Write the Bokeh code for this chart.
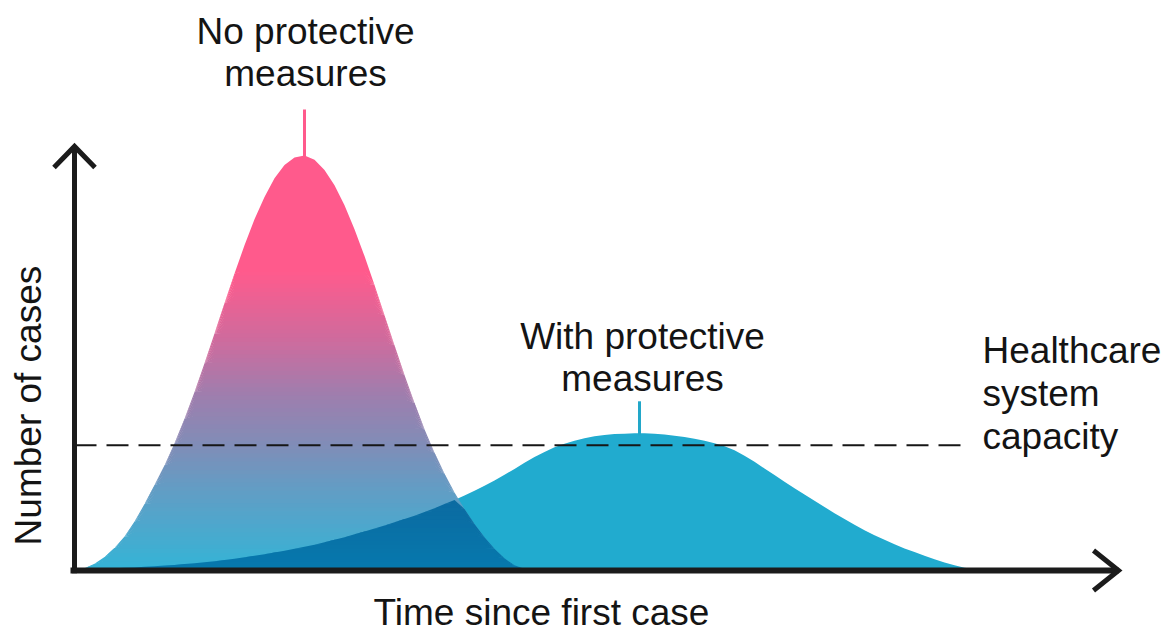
import numpy as np
from bokeh.plotting import figure
from bokeh.models import Range1d
from bokeh.embed import file_html
from bokeh.resources import INLINE
from bokeh.core.properties import value

# ---------------- data ----------------
time_steps = list(range(0, 93))

cases_no_measures = [
    0, 0.3, 1.4, 3.0, 5.2, 8.0, 11.6, 15.8, 20.4, 25.1,
    30.5, 36.4, 42.9, 49.8, 57.0, 64.3, 71.5, 78.3, 84.6, 90.0,
    94.5, 97.7, 99.5, 100, 99.0, 96.5, 92.8, 88.0, 82.2, 75.7,
    68.7, 61.4, 54.1, 47.0, 40.2, 33.9, 28.2, 23.1, 18.6, 14.6,
    11.0, 7.8, 5.0, 2.7, 1.0, 0.2, 0, 0, 0, 0,
    0, 0, 0, 0, 0, 0, 0, 0, 0, 0,
    0, 0, 0, 0, 0, 0, 0, 0, 0, 0,
    0, 0, 0, 0, 0, 0, 0, 0, 0, 0,
    0, 0, 0, 0, 0, 0, 0, 0, 0, 0,
    0, 0, 0,
]

cases_with_measures = [
    0, 0.05, 0.1, 0.2, 0.3, 0.4, 0.5, 0.65, 0.8, 0.95,
    1.1, 1.3, 1.5, 1.75, 2.0, 2.3, 2.6, 2.95, 3.3, 3.7,
    4.1, 4.5, 5.0, 5.5, 6.0, 6.6, 7.2, 7.8, 8.5, 9.2,
    9.9, 10.6, 11.4, 12.2, 13.0, 13.9, 14.8, 15.8, 16.8, 17.9,
    19.0, 20.2, 21.5, 22.9, 24.3, 25.8, 27.2, 28.4, 29.5, 30.4,
    31.1, 31.7, 32.2, 32.5, 32.7, 32.8, 32.9, 32.9, 32.8, 32.6,
    32.3, 32.0, 31.6, 31.1, 30.5, 29.8, 28.8, 27.5, 26.0, 24.4,
    22.8, 21.2, 19.6, 18.1, 16.6, 15.1, 13.6, 12.2, 10.8, 9.5,
    8.3, 7.2, 6.1, 5.1, 4.2, 3.3, 2.5, 1.7, 1.0, 0.4,
    0.1, 0, 0,
]

capacity_level = 30
capacity_end = 89

label_no = ["No protective", "measures"]
label_with = ["With protective", "measures"]
label_capacity = ["Healthcare", "system", "capacity"]
x_title = "Time since first case"
y_title = "Number of cases"

# ---------------- figure ----------------
W, H = 1164, 633
X0, X1 = -7.4, 109.0
Y0, Y1 = -15.46, 137.44
dxp = (X1 - X0) / W     # data units per pixel (x)
dyp = (Y1 - Y0) / H     # data units per pixel (y)

p = figure(width=W, height=H, output_backend="svg", toolbar_location=None,
           x_range=Range1d(X0, X1), y_range=Range1d(Y0, Y1),
           x_axis_location=None, y_axis_location=None, min_border=0,
           background_fill_color="white", border_fill_color="white")
p.grid.visible = False
p.outline_line_color = None

t = np.array(time_steps, dtype=float)
left = np.array(cases_no_measures, dtype=float)
right = np.array(cases_with_measures, dtype=float)

TEAL = (33, 171, 207)
PINK = (255, 90, 140)
stops_c = [0, 20, 30, 42, 55, 72]
stops_rgb = [(52, 180, 214), (100, 156, 196), (128, 141, 183),
             (158, 126, 174), (205, 108, 158), PINK]


def grad(c):
    return tuple(int(round(np.interp(c, stops_c, [s[i] for s in stops_rgb])))
                 for i in range(3))


def hexc(rgb):
    return "#%02x%02x%02x" % rgb


# right curve (with measures)
p.varea(x=t, y1=np.zeros_like(right), y2=right, fill_color=hexc(TEAL))

# left curve with vertical gradient
top_grad = 72
for k in range(top_grad):
    lo, hi = float(k), k + 1.2
    p.varea(x=t, y1=np.minimum(left, lo), y2=np.minimum(left, hi),
            fill_color=hexc(grad(k + 0.5)))
p.varea(x=t, y1=np.minimum(left, top_grad), y2=left, fill_color=hexc(PINK))

# overlap (multiply blend)
ov = np.minimum(left, right)
for k in range(int(np.ceil(ov.max())) + 1):
    lo, hi = float(k), k + 1.2
    g = grad(k + 0.5)
    m = tuple(int(g[i] * TEAL[i] / 255) for i in range(3))
    p.varea(x=t, y1=np.minimum(ov, lo), y2=np.minimum(ov, hi), fill_color=hexc(m))

# capacity dashed line
p.line(x=[0, capacity_end], y=[capacity_level, capacity_level],
       line_color="#161616", line_width=2, line_dash="22 10")

# axes with open arrow heads
AX = "#1b1b1b"
y_tip = 102.2
x_tip = 104.4
x_base = -0.25
p.line(x=[0, 0], y=[-0.9, y_tip], line_color=AX, line_width=5)
p.line(x=[-20.5 * dxp, 0, 20.5 * dxp], y=[y_tip - 21 * dyp, y_tip, y_tip - 21 * dyp],
       line_color=AX, line_width=5, line_join="miter")
p.line(x=[-0.4, x_tip], y=[x_base, x_base], line_color=AX, line_width=6)
p.line(x=[x_tip - 25 * dxp, x_tip, x_tip - 25 * dxp],
       y=[x_base + 20 * dyp, x_base, x_base - 20 * dyp],
       line_color=AX, line_width=5, line_join="miter")

# peak markers
pk_l = float(np.mean(t[left == left.max()]))
pk_r = float(np.mean(t[right == right.max()]))
p.line(x=[pk_l, pk_l], y=[left.max() - 0.5, left.max() + 46 * dyp],
       line_color=hexc(PINK), line_width=3)
p.line(x=[pk_r, pk_r], y=[right.max() - 0.5, right.max() + 32 * dyp],
       line_color="#22a7c9", line_width=3)

# texts
FONT = value("Liberation Sans")
TXT = "#141414"
FS = "37px"
SH = 12 * dyp   # baseline correction
tx, ty, tt, ta = [], [], [], []
for i, s in enumerate(label_no):
    tx.append(pk_l + 0.1); ty.append(left.max() + (112 - 42 * i) * dyp + SH); tt.append(s); ta.append("center")
for i, s in enumerate(label_with):
    tx.append(pk_r + 0.3); ty.append(right.max() + (85 - 42 * i) * dyp + SH); tt.append(s); ta.append("center")
for i, s in enumerate(label_capacity):
    tx.append(90.8); ty.append(capacity_level + (86 - 43 * i) * dyp - 0.7 + SH); tt.append(s); ta.append("left")
tx.append(46.7); ty.append(-14.4 + SH + 5 * dyp); tt.append(x_title); ta.append("center")

p.text(x=tx, y=ty, text=tt, text_align=ta, text_baseline="alphabetic",
       text_font=FONT, text_font_size=FS, text_color=TXT)
p.text(x=[-3.3 - 13 * dxp], y=[39.6], text=[y_title], angle=np.pi / 2,
       text_align="center", text_baseline="alphabetic",
       text_font=FONT, text_font_size=FS, text_color=TXT)

open("out.html", "w").write(file_html(p, INLINE))
